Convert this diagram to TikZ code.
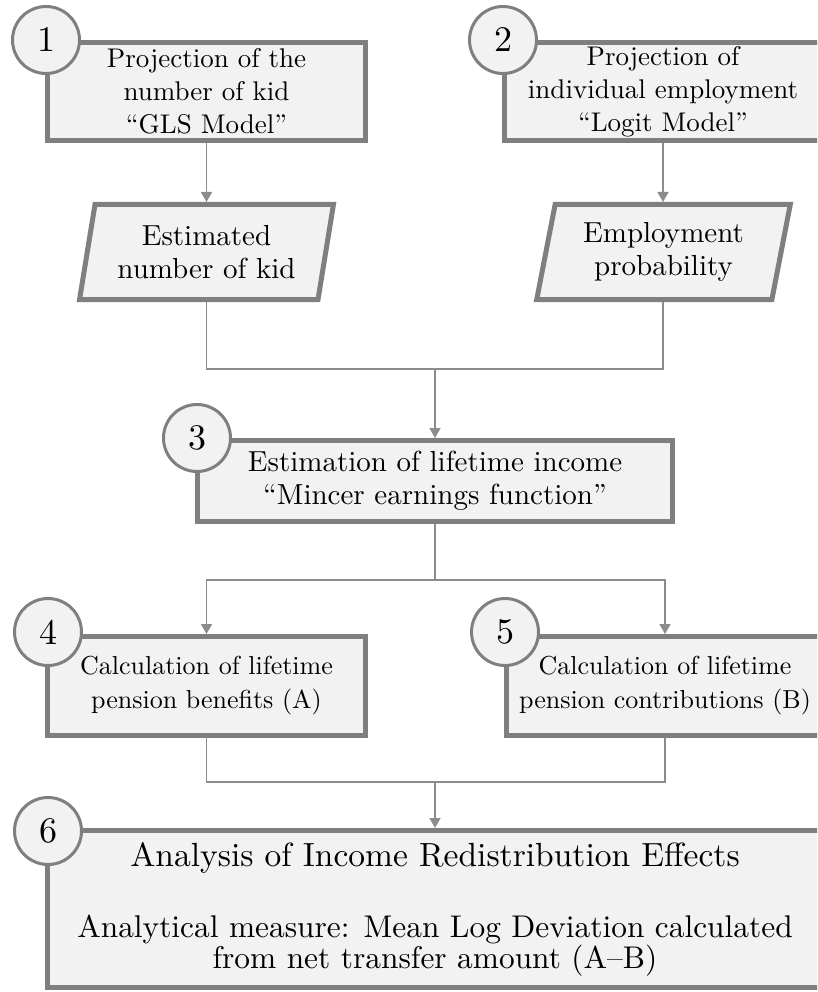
\documentclass[tikz,border=0pt]{standalone}
\usepackage{fontspec}
\setmainfont{lmroman10-regular.otf}
\usetikzlibrary{shapes.geometric,arrows.meta}
\definecolor{bfill}{HTML}{F2F2F2}
\definecolor{bline}{HTML}{7F7F7F}
\definecolor{cline}{HTML}{8C8C8C}
\begin{document}
\begin{tikzpicture}[x=1pt,y=-1pt,
  box/.style={rectangle, draw=bline, line width=5pt, fill=bfill, align=center, inner sep=0pt,
              font=\fontsize{27}{33}\selectfont},
  para/.style={trapezium, trapezium left angle=77, trapezium right angle=103, trapezium stretches=true,
               draw=bline, line width=5pt, fill=bfill, align=center, inner sep=0pt,
               minimum width=254pt, minimum height=95pt, font=\fontsize{29}{33}\selectfont},
  num/.style={circle, draw=bline, line width=3pt, fill=bfill, minimum size=67pt, inner sep=0pt,
              font=\fontsize{36}{40}\selectfont},
  conn/.style={draw=cline, line width=1.5pt},
  arr/.style={conn, -{Triangle[width=11pt,length=10pt]}}]
\useasboundingbox (0,0) rectangle (817,992);
\clip (0,0) rectangle (817,992);
% boxes
\node[box, minimum width=318pt, minimum height=98pt] (b1) at (206.5,91.5)
  {\raisebox{-3pt}{\parbox{310pt}{\centering Projection of the\\number of kid\\“GLS Model”}}};
\node[box, minimum width=318pt, minimum height=98pt] (b2) at (663,91.5)
  {\raisebox{-3pt}{\parbox{310pt}{\centering Projection of\\individual employment\\“Logit Model”}}};
\node[para] (p1) at (206.5,252) {Estimated\\number of kid};
\node[para] (p2) at (663.5,252) {Employment\\probability};
\node[box, minimum width=475pt, minimum height=81pt, font=\fontsize{29}{33}\selectfont] (b3) at (435,481)
  {\raisebox{-5pt}{\parbox{470pt}{\centering Estimation of lifetime income\\“Mincer earnings function”}}};
\node[box, minimum width=318pt, minimum height=99pt, font=\fontsize{26}{34}\selectfont] (b4) at (206.5,686)
  {Calculation of lifetime\\pension benefits (A)};
\node[box, minimum width=318pt, minimum height=99pt, font=\fontsize{26}{34}\selectfont] (b5) at (665,686)
  {Calculation of lifetime\\pension contributions (B)};
\node[box, minimum width=775pt, minimum height=157pt, font=\fontsize{31.4}{31}\selectfont] (b6) at (435,909)
  {\raisebox{-4pt}{\parbox{770pt}{\centering{\fontsize{33.5}{31}\selectfont Analysis of Income Redistribution Effects}\\[40pt]Analytical measure: Mean Log Deviation calculated\\from net transfer amount (A–B)}}};
% number circles
\node[num] (n1) at (46,40) {1};
\node[num] (n2) at (503,40) {2};
\node[num] (n3) at (197,438) {3};
\node[num] (n4) at (48,632) {4};
\node[num] (n5) at (505,632) {5};
\node[num] (n6) at (48,831) {6};
% connectors
\draw[arr] (b1.south) -- (b1.south |- p1.north);
\draw[arr] (b2.south) -- (b2.south |- p2.north);
\coordinate (j1) at (435,369);
\draw[conn] (b1.south |- p1.south) |- (j1);
\draw[conn] (b2.south |- p2.south) |- (j1);
\draw[arr] (j1) -- (b3.north);
\coordinate (j2) at (435,580);
\draw[conn] (b3.south) -- (j2);
\draw[arr] (j2) -| (b4.north);
\draw[arr] (j2) -| (b5.north);
\coordinate (j3) at (435,782);
\draw[conn] (b4.south) |- (j3);
\draw[conn] (b5.south) |- (j3);
\draw[arr] (j3) -- (b6.north);
\end{tikzpicture}
\end{document}
